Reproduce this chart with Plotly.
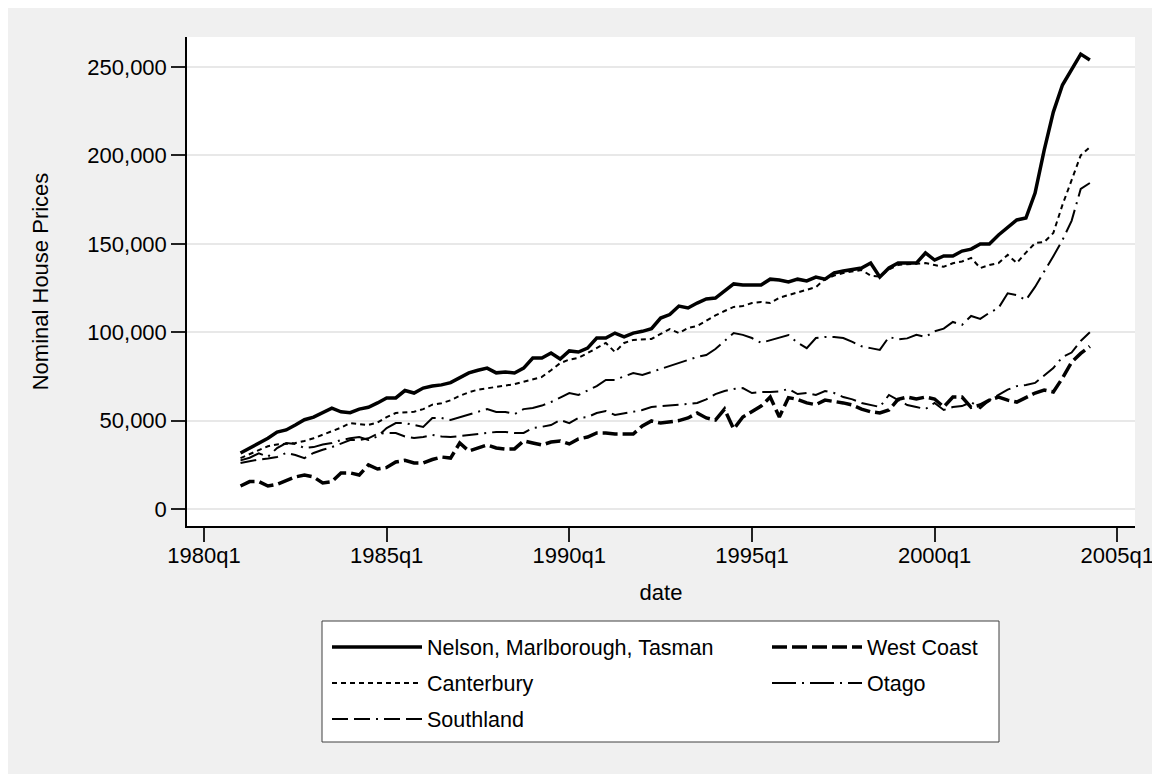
import plotly.graph_objects as go

# ---------------- data (thousands of NZ$) ----------------
quarters = [f"{y}q{q}" for y in range(1981, 2005) for q in range(1, 5)][:94]

nelson = [31.7, 34.5, 37.5, 40.0, 43.5, 44.7, 47.5, 50.5, 52.0, 54.5,
          57.0, 55.0, 54.5, 56.5, 57.5, 60.0, 62.8, 62.8, 67.0, 65.6,
          68.4, 69.6, 70.2, 71.5, 74.0, 77.0, 78.5, 79.7, 77.0, 77.5,
          76.9, 79.7, 85.4, 85.4, 88.2, 84.8, 89.4, 88.8, 91.0, 96.7,
          96.7, 99.5, 97.3, 99.5, 100.5, 102.0, 108.0, 110.0, 114.8, 113.7,
          116.5, 118.8, 119.3, 123.3, 127.3, 126.7, 126.7, 126.7, 130.0, 129.5,
          128.4, 130.0, 129.0, 131.2, 130.0, 133.5, 134.6, 135.7, 136.3, 139.1,
          131.2, 136.3, 139.1, 139.1, 139.1, 144.8, 140.8, 143.1, 143.1, 145.9,
          147.0, 149.9, 149.9, 155.0, 159.5, 163.5, 164.6, 178.7, 203.0, 224.5,
          239.8, 248.3, 257.3, 254.0]

west_coast = [13.0, 15.5, 15.5, 13.0, 14.0, 16.0, 18.1, 19.2, 18.1, 14.7,
              15.5, 20.4, 20.4, 19.2, 24.9, 22.6, 23.5, 26.6, 27.5, 26.0,
              26.0, 28.0, 29.4, 28.8, 37.3, 32.8, 34.5, 36.2, 34.5, 33.9,
              34.0, 38.5, 37.3, 36.2, 37.9, 38.5, 36.8, 39.6, 40.7, 43.0,
              43.0, 42.4, 42.4, 42.4, 47.0, 49.8, 48.6, 49.2, 50.0, 51.5,
              54.3, 51.5, 50.3, 56.5, 45.2, 52.0, 54.9, 58.2, 63.3, 52.0,
              63.0, 62.0, 60.0, 59.0, 61.6, 61.0, 60.0, 58.8, 56.5, 55.0,
              54.3, 56.0, 62.0, 63.3, 62.2, 63.3, 62.2, 57.7, 63.3, 63.3,
              57.5, 58.8, 61.6, 63.3, 61.6, 60.5, 62.8, 65.6, 67.3, 66.2,
              74.0, 83.0, 88.0, 92.0]

canterbury = [28.8, 31.0, 33.5, 35.5, 36.5, 36.8, 37.3, 38.5, 40.0, 42.0,
              44.0, 46.0, 48.6, 48.0, 47.5, 49.0, 52.0, 54.3, 54.6, 55.0,
              56.5, 59.0, 59.8, 61.5, 64.0, 66.0, 67.5, 68.3, 69.0, 69.8,
              70.6, 72.0, 73.5, 74.7, 78.5, 82.5, 84.5, 85.5, 88.2, 91.0,
              93.9, 88.8, 93.9, 95.6, 96.0, 96.2, 99.0, 101.8, 99.5, 102.4,
              103.5, 106.5, 109.5, 112.0, 114.3, 114.8, 116.5, 117.1, 116.5, 119.5,
              121.0, 122.5, 124.0, 125.5, 130.0, 132.0, 133.5, 134.5, 135.2, 132.0,
              131.5, 135.5, 138.0, 138.5, 139.0, 139.1, 138.0, 137.0, 139.0, 140.0,
              142.0, 136.3, 138.0, 139.1, 143.7, 139.1, 145.0, 150.4, 151.0, 156.1,
              172.0, 186.0, 200.0, 204.7]

otago = [27.5, 29.0, 31.5, 29.5, 34.5, 37.3, 36.8, 34.5, 35.0, 36.5,
         37.3, 39.0, 40.0, 40.7, 39.0, 41.0, 45.8, 48.6, 48.6, 47.5,
         46.4, 51.5, 51.5, 50.3, 52.0, 53.5, 55.0, 56.5, 54.9, 54.9,
         53.7, 56.5, 57.1, 58.5, 60.5, 63.0, 65.6, 64.5, 67.0, 69.5,
         73.0, 73.0, 75.0, 76.9, 75.8, 77.5, 79.5, 81.0, 82.5, 84.3,
         86.0, 87.1, 90.5, 95.0, 99.5, 98.5, 96.7, 94.0, 95.6, 97.0,
         98.4, 94.0, 91.0, 96.7, 97.3, 97.3, 96.7, 94.5, 92.0, 91.0,
         90.0, 97.3, 96.0, 96.5, 98.5, 97.3, 100.5, 102.0, 105.8, 104.1,
         109.2, 107.5, 111.0, 113.7, 122.0, 121.0, 118.2, 125.6, 134.0, 143.0,
         152.1, 163.0, 181.0, 184.4]

southland = [26.0, 27.0, 28.0, 28.5, 29.4, 31.7, 30.5, 28.8, 31.7, 33.5,
             35.0, 37.0, 39.0, 39.0, 40.0, 42.5, 43.0, 43.0, 41.0, 40.2,
             40.7, 41.9, 41.0, 40.7, 41.3, 42.0, 42.4, 42.8, 43.6, 43.6,
             43.0, 43.0, 45.8, 46.5, 47.5, 50.3, 48.6, 51.5, 52.0, 54.3,
             55.4, 53.2, 54.3, 55.0, 56.0, 57.7, 58.2, 58.5, 58.8, 59.4,
             60.0, 62.0, 65.0, 66.7, 67.9, 68.4, 65.6, 66.2, 66.2, 66.5,
             67.9, 65.0, 65.6, 64.5, 66.7, 65.6, 63.3, 62.0, 60.0, 59.0,
             57.7, 64.5, 61.5, 58.8, 57.7, 56.5, 60.0, 56.0, 57.7, 58.2,
             60.5, 57.0, 61.5, 64.5, 67.5, 69.5, 70.1, 71.3, 75.5, 79.7,
             86.0, 88.5, 95.0, 100.0]

tick_text = ["1980q1", "1985q1", "1990q1", "1995q1", "2000q1", "2005q1"]
y_ticks = [0, 50000, 100000, 150000, 200000, 250000]

series_names = ["Nelson, Marlborough, Tasman", "West Coast", "Canterbury", "Otago", "Southland"]
series_values = [nelson, west_coast, canterbury, otago, southland]

for s in series_values:
    assert len(s) == len(quarters)


def qnum(label):
    return int(label[:4]) + (int(label[5]) - 1) / 4


x_vals = [qnum(q) for q in quarters]
tick_vals = [qnum(t) for t in tick_text]

# ---------------- layout geometry (figure pixels) ----------------
W, H = 1160, 774
L, R, T, B = 179, 1127, 29, 518
PW, PH = R - L, B - T
X1980, PX_PER_YEAR = 196, 36.53
Y0, PX_PER_50K = 501, 88.4


def px(xp):
    return (xp - L) / PW


def py(yp):
    return (B - yp) / PH


FONT = "Liberation Sans, Arial, Helvetica, sans-serif"
TICK_SIZE = 22
TITLE_SIZE = 22
LEG_SIZE = 21.5

styles = [
    dict(width=3.5, dash="solid"),
    dict(width=3.5, dash="15px,5px"),
    dict(width=2, dash="5px,4px"),
    dict(width=2, dash="24px,6px,2px,6px"),
    dict(width=2, dash="16px,6px,16px,6px,2px,6px"),
]
legend_ids = ["legend", "legend2", "legend3", "legend4", "legend5"]
legend_pos = [(319, 639), (759, 639), (319, 675), (759, 675), (319, 711)]

fig = go.Figure()
for name, vals, st, lg in zip(series_names, series_values, styles, legend_ids):
    fig.add_trace(go.Scatter(
        x=x_vals, y=[v * 1000 for v in vals], mode="lines", name=name,
        line=dict(color="black", width=st["width"], dash=st["dash"]),
        legend=lg, hoverinfo="skip"))

legend_cfg = {}
for lg, (lx, ly) in zip(legend_ids, legend_pos):
    legend_cfg[lg] = dict(
        x=px(lx), y=py(ly), xanchor="left", yanchor="middle",
        bgcolor="rgba(0,0,0,0)", borderwidth=0, itemwidth=90,
        font=dict(family=FONT, size=LEG_SIZE, color="black"),
        orientation="h")

shapes = [
    # legend box
    dict(type="rect", xref="paper", yref="paper", x0=px(314), x1=px(991), y0=py(734), y1=py(613),
         fillcolor="white", line=dict(color="#404040", width=1), layer="below"),
]

fig.update_layout(
    width=W, height=H,
    margin=dict(l=L, r=W - R, t=T, b=H - B, pad=0),
    paper_bgcolor="#F0F0F0", plot_bgcolor="white",
    font=dict(family=FONT, size=TICK_SIZE, color="black"),
    showlegend=True,
    shapes=shapes,
    **legend_cfg,
)

fig.update_xaxes(
    range=[1980 - (X1980 - L) / PX_PER_YEAR, 1980 + (R - X1980) / PX_PER_YEAR],
    tickmode="array", tickvals=tick_vals, ticktext=tick_text,
    ticks="outside", ticklen=14, tickwidth=1.5, tickcolor="#222",
    ticklabelstandoff=-5,
    showgrid=False, zeroline=False,
    showline=True, linecolor="black", linewidth=1.5,
    tickfont=dict(family=FONT, size=TICK_SIZE, color="black"),
    title=dict(text="date", font=dict(family=FONT, size=TITLE_SIZE, color="black"), standoff=17),
)

fig.update_yaxes(
    range=[-(B - Y0) / PX_PER_50K * 50000, 250000 + ((Y0 - 5 * PX_PER_50K) - T) / PX_PER_50K * 50000],
    tickmode="array", tickvals=y_ticks, tickformat=",",
    ticks="outside", ticklen=14, tickwidth=1.5, tickcolor="#222",
    showgrid=True, gridcolor="#E8E8E8", gridwidth=2,
    zeroline=False,
    showline=True, linecolor="black", linewidth=1.5,
    tickfont=dict(family=FONT, size=TICK_SIZE, color="black"),
    title=dict(text="Nominal House Prices", font=dict(family=FONT, size=TITLE_SIZE, color="black"), standoff=33),
)

fig.write_html("out.html")
